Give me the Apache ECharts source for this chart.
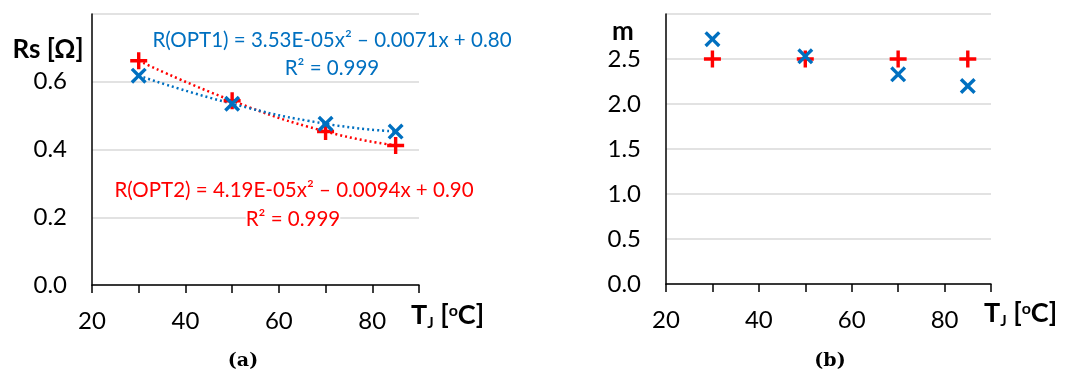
<!DOCTYPE html>
<html>
<head>
<meta charset="utf-8">
<script src="https://cdn.jsdelivr.net/npm/echarts@6/dist/echarts.min.js"></script>
<style>
  html, body { margin: 0; background: #fff; }
  #chart { width: 1080px; height: 372px; }
</style>
</head>
<body>
<div id="chart"></div>
<script>
// junction temperature (x) and the measured values of both panels
const tj = [30, 50, 70, 85]
const rsOpt1 = [0.618, 0.535, 0.476, 0.453]
const rsOpt2 = [0.662, 0.544, 0.453, 0.412]
const mOpt1 = [2.72, 2.53, 2.33, 2.20]
const mOpt2 = [2.5, 2.5, 2.5, 2.5]
const xTickLabels = ['20', '40', '60', '80']
const rsTickLabels = ['0.0', '0.2', '0.4', '0.6']
const mTickLabels = ['0.0', '0.5', '1.0', '1.5', '2.0', '2.5']

const BLUE = '#0070C0'
const RED = '#FF0000'
const FONT = 'Lato, "Noto Sans"'
const PLUS = 'path://M4,0H6V4H10V6H6V10H4V6H0V4H4Z'
const CROSS = 'path://M0,1.5L1.5,0L5,3.5L8.5,0L10,1.5L6.5,5L10,8.5L8.5,10L5,6.5L1.5,10L0,8.5L3.5,5Z'

const pairs = (ys) => tj.map((x, i) => [x, ys[i]])

function xAxis(gridIndex) {
  return {
    type: 'value',
    gridIndex: gridIndex,
    min: 20,
    max: 90,
    interval: 10,
    axisLine: { show: true, lineStyle: { color: '#000', width: 1.5 } },
    axisTick: { show: true, length: 8, lineStyle: { color: '#000', width: 1.5 } },
    splitLine: { show: false },
    axisLabel: {
      margin: 24,
      fontFamily: FONT,
      fontSize: 24,
      color: '#000',
      formatter: function(v) {
        const s = String(v)
        return xTickLabels.includes(s) ? s : ''
      }
    }
  }
}

function yAxis(gridIndex, max, interval, labels) {
  return {
    type: 'value',
    gridIndex: gridIndex,
    min: 0,
    max: max,
    interval: interval,
    axisLine: { show: true, lineStyle: { color: '#000', width: 1.5 } },
    axisTick: { show: false },
    splitLine: { show: true, lineStyle: { color: '#d9d9d9', width: 1.5 } },
    axisLabel: {
      margin: 25,
      fontFamily: FONT,
      fontSize: 24,
      color: '#000',
      formatter: function(v) {
        const s = v.toFixed(1)
        return labels.includes(s) ? s : ''
      }
    }
  }
}

function trend(data, color) {
  return {
    type: 'line',
    xAxisIndex: 0,
    yAxisIndex: 0,
    data: data,
    smooth: true,
    symbol: 'none',
    silent: true,
    lineStyle: { color: color, width: 2.5, type: [2, 3] },
    z: 2
  }
}

function marks(data, color, symbol, size, idx) {
  return {
    type: 'scatter',
    xAxisIndex: idx,
    yAxisIndex: idx,
    data: data,
    symbol: symbol,
    symbolSize: size,
    itemStyle: { color: color, opacity: 1 },
    z: 3
  }
}

const axisNameRich = {
  b: { fontFamily: FONT, fontSize: 27, fontWeight: 'bold', color: '#000' },
  s: { fontFamily: FONT, fontSize: 15, fontWeight: 'bold', color: '#000', padding: [16, 0, 0, 0] },
  p: { fontFamily: FONT, fontSize: 16, fontWeight: 'bold', color: '#000', padding: [0, 0, 10, 0] }
}

function tjName(x, y) {
  return {
    type: 'text',
    left: x,
    top: y,
    z: 100,
    style: {
      text: '{b|T}{s|J}{b| [}{p|o}{b|C]}',
      rich: axisNameRich
    }
  }
}

function note(text, cx, cy, color) {
  return {
    type: 'text',
    x: cx,
    y: cy,
    z: 100,
    style: {
      text: text,
      fontFamily: FONT,
      fontSize: 20.5,
      fill: color,
      align: 'center',
      verticalAlign: 'middle',
      backgroundColor: '#fff'
    }
  }
}

const chart = echarts.init(document.getElementById('chart'))
chart.setOption({
  animation: false,
  grid: [
    { left: 92, top: 14, width: 327, height: 271 },
    { left: 666, top: 14, width: 325, height: 270 }
  ],
  xAxis: [xAxis(0), xAxis(1)],
  yAxis: [yAxis(0, 0.8, 0.2, rsTickLabels), yAxis(1, 3.0, 0.5, mTickLabels)],
  series: [
    trend(pairs(rsOpt2), RED),
    trend(pairs(rsOpt1), BLUE),
    marks(pairs(rsOpt2), RED, PLUS, 17, 0),
    marks(pairs(rsOpt1), BLUE, CROSS, 16, 0),
    marks(pairs(mOpt2), RED, PLUS, 17, 1),
    marks(pairs(mOpt1), BLUE, CROSS, 16, 1)
  ],
  graphic: [
    {
      type: 'text', x: 48, y: 50, z: 100,
      style: { text: 'Rs [Ω]', fontFamily: FONT, fontSize: 26, fontWeight: 'bold', fill: '#000', align: 'center', verticalAlign: 'middle' }
    },
    {
      type: 'text', x: 623, y: 32, z: 100,
      style: { text: 'm', fontFamily: FONT, fontSize: 26, fontWeight: 'bold', fill: '#000', align: 'center', verticalAlign: 'middle' }
    },
    tjName(411, 302),
    tjName(984, 300),
    note('R(OPT1) = 3.53E-05x² – 0.0071x + 0.80', 332, 40, BLUE),
    note('R² = 0.999', 332, 68, BLUE),
    note('R(OPT2) = 4.19E-05x² – 0.0094x + 0.90', 294, 190, RED),
    note('R² = 0.999', 293, 219, RED),
    {
      type: 'text', x: 243, y: 361, z: 100,
      style: { text: '(a)', fontFamily: 'DejaVu Serif', fontSize: 19, fontWeight: 'bold', fill: '#000', align: 'center', verticalAlign: 'middle' }
    },
    {
      type: 'text', x: 830, y: 361, z: 100,
      style: { text: '(b)', fontFamily: 'DejaVu Serif', fontSize: 19, fontWeight: 'bold', fill: '#000', align: 'center', verticalAlign: 'middle' }
    }
  ]
})
</script>
</body>
</html>
